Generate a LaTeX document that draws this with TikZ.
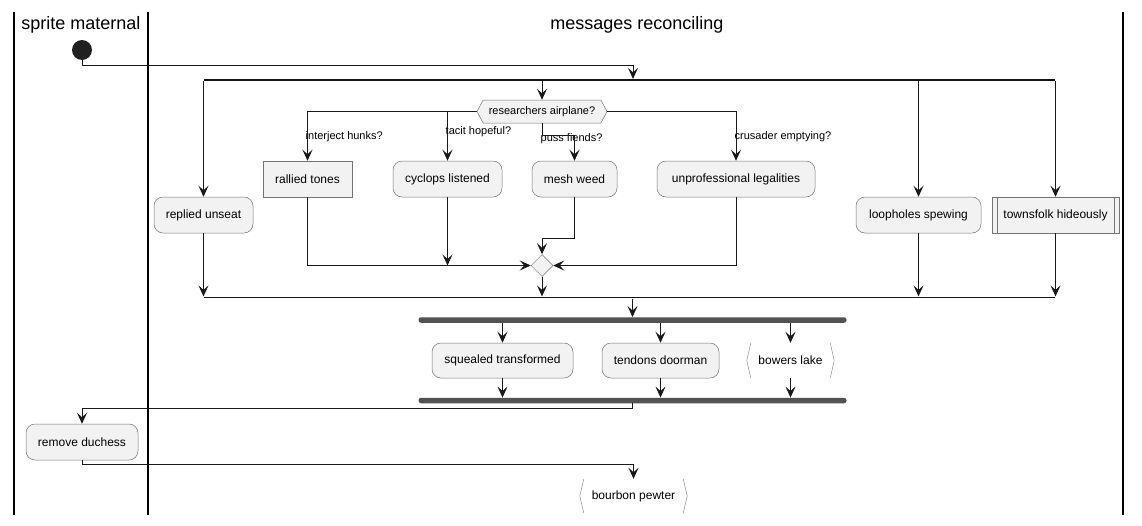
\documentclass[tikz,border=0pt]{standalone}
\usepackage{fontspec}
\setmainfont{Liberation Sans}
\usetikzlibrary{arrows.meta,shapes.symbols,shapes.geometric}

\tikzset{
  lane/.style={line width=1.3pt,black},
  title/.style={font=\fontsize{18}{20}\selectfont,inner sep=0pt},
  act/.style={draw=black!55,fill=black!5,rounded corners=9pt,line width=0.5pt,inner sep=0pt,
              minimum height=36pt,font=\fontsize{12}{14}\selectfont},
  rect/.style={act,rounded corners=0pt},
  brk/.style={inner sep=0pt,minimum height=35pt,font=\fontsize{12}{14}\selectfont},
  brkline/.style={draw=black!45,line width=0.5pt},
  dec/.style={draw=black!55,fill=black!5,line width=0.5pt,shape=signal,signal to=west and east,
              signal pointer angle=124,inner sep=0pt,minimum width=130pt,minimum height=23pt,
              font=\fontsize{11}{13}\selectfont},
  mrg/.style={draw=black!55,fill=black!5,line width=0.5pt,diamond,inner sep=0pt,
              minimum width=22pt,minimum height=22pt},
  bar/.style={fill=black!92,inner sep=0pt,minimum height=1.8pt},
  fork/.style={fill=black!68,inner sep=0pt,minimum height=5.5pt,rounded corners=2.5pt},
  lbl/.style={font=\fontsize{11}{13}\selectfont,inner sep=0.5pt,anchor=west},
  flow/.style={draw=black!90,line width=0.9pt,-{Stealth[length=11pt,width=10pt,inset=4.5pt]}}
}

\begin{document}
\begin{tikzpicture}[x=1pt,y=-1pt]
\useasboundingbox (0,0) rectangle (1142,525);

% swimlanes
\draw[lane] (14,12) -- (14,515)  (148,12) -- (148,515)  (1123,12) -- (1123,515);
\draw (81,25) node[title](t1){sprite maternal}  (637,25) node[title](t2){messages reconciling};

% start and split
\draw (82,50) node[circle,fill=black!87,inner sep=0pt,minimum size=20pt](s0){};
\draw (629.5,80) node[bar,minimum width=851pt](sp){}  (629.5,297.5) node[bar,minimum width=851pt](mb){};

% activities
\draw 	(203.5,215) node[act,minimum width=99pt](rep){replied unseat}
		(307.5,179) node[rect,minimum width=89pt](ral){rallied tones}
		(447.5,179) node[act,minimum width=109pt](cyc){cyclops listened}
		(574.5,179) node[act,minimum width=85pt](msh){mesh weed}
		(736,179)   node[act,minimum width=158pt](unp){unprofessional legalities}
		(918.5,215) node[act,minimum width=125pt](lop){loopholes spewing}
		(1055.5,215) node[rect,minimum width=127pt](tf){townsfolk hideously};
\draw[black!55,line width=0.5pt] ([xshift=5pt]tf.north west) -- ([xshift=5pt]tf.south west)
		([xshift=-5pt]tf.north east) -- ([xshift=-5pt]tf.south east);

\draw 	(542,111.5) node[dec](dc){researchers airplane?}
		(542,265.5) node[mrg](mg){};

% guards
\draw 	(305,137) node[lbl](l1){interject hunks?}  (445,132) node[lbl](l2){tacit hopeful?}
		(540,139) node[lbl](l3){puss fiends?}  (734,137) node[lbl](l4){crusader emptying?};

% fork / join
\draw 	(632.5,320) node[fork,minimum width=428pt](fk){}  (632.5,400.5) node[fork,minimum width=428pt](jn){};
\draw 	(502.5,360.5) node[act,minimum width=141pt,minimum height=35pt](sq){squealed transformed}
		(660.5,360.5) node[act,minimum width=117pt,minimum height=35pt](tn){tendons doorman}
		(790.5,360.5) node[brk,minimum width=87pt](bl){bowers lake};
\draw[brkline] ([xshift=4pt]bl.north west) -- (bl.west) -- ([xshift=4pt]bl.south west)
		([xshift=-4pt]bl.north east) -- (bl.east) -- ([xshift=-4pt]bl.south east);

\draw 	(82,442) node[act,minimum width=112pt](rm){remove duchess}
		(633.5,496) node[brk,minimum width=107pt,minimum height=34pt](bp){bourbon pewter};
\draw[brkline] ([xshift=4pt]bp.north west) -- (bp.west) -- ([xshift=4pt]bp.south west)
		([xshift=-4pt]bp.north east) -- (bp.east) -- ([xshift=-4pt]bp.south east);

% connectors
\coordinate (c1) at (633,65);
\draw[flow] (s0.south) |- (c1) -- (c1 |- sp.north);
\foreach \n in {rep,dc,lop,tf} \draw[flow] (\n.north |- sp.south) -- (\n.north);
\foreach \n in {rep,lop,tf,mg} \draw[flow] (\n.south) -- (\n.south |- mb.north);

\draw[flow] (dc.west) -| (ral.north);
\draw[flow] (cyc.north |- dc.west) -- (cyc.north);
\coordinate (c2) at (542,135);
\draw[flow] (dc.south) -- (c2) -| (msh.north);
\draw[flow] (dc.east) -| (unp.north);

\draw[flow] (ral.south) |- (mg.west);
\draw[flow] (cyc.south) -- (cyc.south |- mg.west);
\coordinate (c3) at (574.5,238);
\draw[flow] (msh.south) -- (c3) -| (mg.north);
\draw[flow] (unp.south) |- (mg.east);

\draw[flow] (fk.north |- mb.south) -- (fk.north);
\foreach \n in {sq,tn,bl} {
  \draw[flow] (\n.north |- fk.south) -- (\n.north);
  \draw[flow] (\n.south) -- (\n.south |- jn.north);
}
\coordinate (c4) at (632.5,408);
\draw[flow] (jn.south) -- (c4) -| (rm.north);
\coordinate (c5) at (82,464);
\draw[flow] (rm.south) -- (c5) -| (bp.north);
\end{tikzpicture}
\end{document}
